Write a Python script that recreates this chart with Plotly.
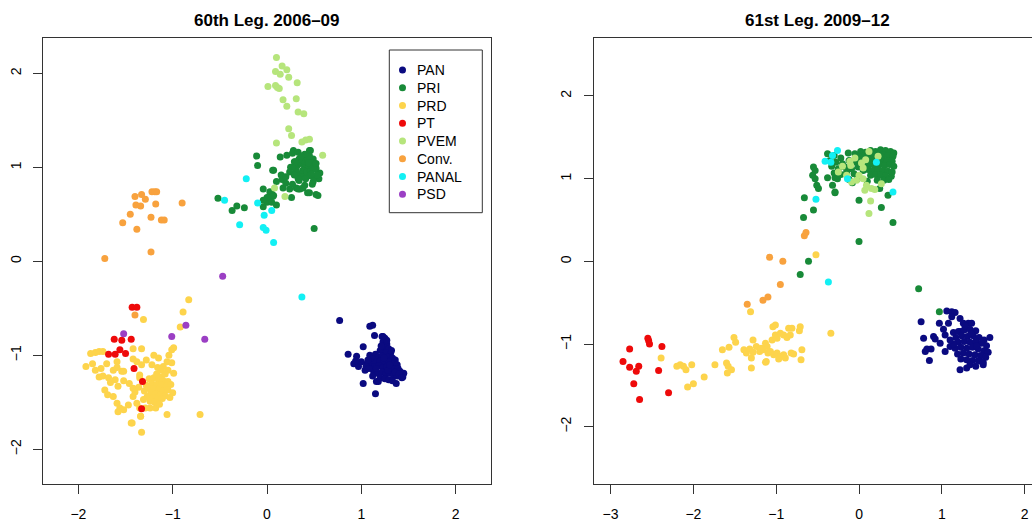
import plotly.graph_objects as go

parties = ["PAN", "PRI", "PRD", "PT", "PVEM", "Conv.", "PANAL", "PSD"]
party_colors = ["#0a0a80", "#188a38", "#fdd44c", "#ee0a0a", "#b6e57c", "#f8a23e", "#12f0f4", "#9b3fc4"]

titles = ["60th Leg. 2006\u201309", "61st Leg. 2009\u201312"]
x_ticks_60 = [-2, -1, 0, 1, 2]
y_ticks_60 = [-2, -1, 0, 1, 2]
x_ticks_61 = [-3, -2, -1, 0, 1, 2]
y_ticks_61 = [-2, -1, 0, 1, 2]

# ---------------- 60th Legislature ----------------
pan_60_x = [0.77, 1.09, 1.12, 1.02, 0.86, 0.92, 0.95, 0.97, 1.06, 1.09, 1.04, 1.02, 1.15, 1.16, 1.37, 1.44, 1.45,
            1.22, 1.25, 1.23, 1.27, 1.24, 1.29, 1.20, 1.26, 1.31, 1.15, 1.18, 1.22, 1.28, 1.33, 1.36, 1.12, 1.16,
            1.20, 1.24, 1.29, 1.34, 1.38, 1.10, 1.14, 1.19, 1.23, 1.27, 1.31, 1.35, 1.39, 1.41, 1.13, 1.17, 1.22,
            1.26, 1.30, 1.34, 1.38, 1.20, 1.25, 1.29, 1.33, 1.18, 1.07, 1.05, 1.00, 0.94, 1.32, 1.27, 1.21, 1.08,
            1.36, 1.40, 1.43, 1.28, 1.24, 1.30, 1.16, 1.12, 1.14, 1.23]
pan_60_y = [-0.63, -0.69, -0.68, -0.91, -0.99, -1.09, -1.01, -1.12, -1.09, -1.00, -1.16, -1.30, -1.41, -1.28, -1.30, -1.23, -1.19,
            -0.80, -0.82, -0.86, -0.88, -0.92, -0.93, -0.95, -0.97, -0.98, -0.99, -1.02, -1.01, -1.02, -1.03, -1.05, -1.04, -1.07,
            -1.06, -1.08, -1.07, -1.09, -1.10, -1.10, -1.12, -1.11, -1.13, -1.12, -1.14, -1.15, -1.14, -1.17, -1.17, -1.19, -1.18,
            -1.20, -1.19, -1.21, -1.22, -1.24, -1.25, -1.26, -1.27, -1.28, -1.05, -1.12, -1.07, -1.06, -0.95, -0.84, -0.90, -1.14,
            -1.18, -1.20, -1.24, -1.16, -1.03, -1.10, -1.14, -1.22, -0.79, -0.80]

pri_60_x = [-0.52, -0.37, -0.32, -0.24, -0.11, -0.10, -0.04, -0.04, 0.00, 0.03, 0.05, 0.02, 0.07, 0.10, 0.50, 0.54,
            0.26, 0.45, 0.28, 0.46, 0.49, 0.56, 0.55, 0.14, 0.21, 0.07, 0.16, 0.17, 0.24, 0.31, 0.35, 0.40, 0.49,
            0.06, 0.27, 0.33, 0.45, 0.29, 0.37, 0.42, 0.48, 0.52, 0.25, 0.41, 0.15, 0.20, 0.34, 0.10, 0.03, 0.06,
            0.00, -0.04, 0.05, 0.33, 0.38, 0.43, 0.52,
            0.32, 0.36, 0.40, 0.44, 0.38, 0.42, 0.46, 0.35, 0.31, 0.27, 0.39, 0.43, 0.47, 0.50, 0.45, 0.37, 0.41,
            0.33, 0.50, 0.53, 0.24, 0.29, 0.34, 0.45, 0.40, 0.36, 0.47, 0.44, 0.52, 0.30, 0.27, 0.20, 0.48]
pri_60_y = [0.67, 0.54, 0.59, 0.57, 1.12, 1.02, 0.77, 0.58, 0.63, 0.70, 0.72, 0.68, 0.70, 0.60, 0.35, 0.70,
            0.68, 0.73, 1.18, 1.18, 1.09, 0.94, 0.88, 1.11, 1.13, 0.97, 0.87, 0.78, 0.77, 0.78, 0.77, 0.81, 0.85,
            0.97, 1.15, 1.16, 1.18, 1.06, 1.10, 1.10, 1.05, 0.99, 1.00, 0.94, 0.92, 0.90, 0.86, 0.85, 0.74, 0.69,
            0.68, 0.65, 0.63, 0.77, 0.78, 0.73, 0.71,
            1.02, 1.04, 1.02, 1.00, 0.97, 0.95, 0.96, 0.93, 0.97, 1.00, 1.07, 1.08, 1.02, 0.98, 0.91, 0.90, 0.88,
            0.88, 0.90, 0.92, 0.95, 0.92, 1.09, 1.12, 1.14, 1.12, 0.93, 1.05, 1.04, 1.06, 0.82, 0.83, 0.82, 0.84]

prd_60_x = [-0.83, -0.89, -1.31, -0.92, -0.71, -1.06, -1.33, -1.43, -1.92,
            -1.01, -0.99, -1.04, -1.42, -1.33, -1.87, -1.82, -1.78, -1.74, -1.70, -1.59, -1.54,
            -1.85, -1.82, -1.76, -1.78, -1.74, -1.68, -1.66, -1.61, -1.58,
            -1.72, -1.69, -1.63, -1.59, -1.56, -1.58, -1.52, -1.47, -1.42, -1.38, -1.35, -1.44, -1.34,
            -1.34, -1.29, -1.24, -1.18,
            -1.42, -1.38, -1.33, -1.28, -1.35, -1.35, -1.52, -1.46, -1.42, -1.40, -1.36,
            -1.63, -1.59, -1.52, -1.22, -1.15, -1.28, -1.06, -1.01, -0.99, -1.05, -1.10, -1.12,
            -1.25, -1.20, -1.15, -1.10, -1.05, -1.22, -1.17, -1.12, -1.07, -1.02, -1.25, -1.20, -1.15, -1.10,
            -1.05, -1.23, -1.18, -1.13, -1.08, -1.27, -1.21, -1.16, -1.11, -1.24, -1.19, -1.14, -1.30, -1.31,
            -1.00, -1.03, -1.17, -1.12, -1.08, -1.20, -1.16]
prd_60_y = [-0.41, -0.54, -0.62, -0.70, -1.63, -1.63, -1.82, -1.72, -1.12,
            -0.94, -0.92, -1.00, -0.93, -0.93, -0.98, -0.97, -0.96, -0.96, -1.09, -1.07, -1.17,
            -1.09, -1.16, -1.14, -1.23, -1.22, -1.24, -1.29, -1.26, -1.33,
            -1.37, -1.42, -1.44, -1.51, -1.56, -1.60, -1.58, -1.53, -1.44, -1.51, -1.56, -1.72, -1.65,
            -1.65, -1.56, -1.56, -1.56,
            -1.04, -1.07, -1.10, -1.05, -1.21, -1.24, -1.27, -1.30, -1.35, -1.39, -1.34,
            -1.16, -1.13, -1.17, -1.10, -1.03, -1.32, -1.07, -1.08, -1.19, -1.16, -1.12, -1.23,
            -1.25, -1.24, -1.26, -1.27, -1.28, -1.30, -1.31, -1.32, -1.33, -1.31, -1.35, -1.36, -1.37, -1.38,
            -1.37, -1.40, -1.41, -1.42, -1.43, -1.44, -1.45, -1.47, -1.46, -1.49, -1.50, -1.52, -1.38, -1.47,
            -1.40, -1.45, -1.20, -1.16, -1.20, -1.00, -1.13]

pt_60_x = [-1.43, -1.38, -1.62, -1.54, -1.44, -1.56, -1.50, -1.68, -1.61, -1.41, -1.32, -1.33]
pt_60_y = [-0.49, -0.49, -0.83, -0.84, -0.83, -0.94, -0.98, -0.99, -0.99, -1.14, -1.28, -1.57]

pvem_60_x = [0.10, 0.16, 0.21, 0.09, 0.14, 0.23, 0.32, 0.01, 0.09, 0.11, 0.13, 0.17, 0.31, 0.21, 0.33, 0.39,
             0.23, 0.26, 0.10, 0.37, 0.41, 0.45, 0.59, 0.08, 0.19]
pvem_60_y = [2.17, 2.08, 2.04, 2.02, 1.99, 1.96, 1.90, 1.86, 1.87, 1.85, 1.84, 1.72, 1.73, 1.65, 1.59, 1.57,
             1.41, 1.34, 1.26, 1.27, 1.29, 1.30, 1.13, 0.78, 0.69]

conv_60_x = [-1.40, -1.33, -1.29, -1.22, -1.19, -1.17, -1.18, -1.39, -1.34, -1.45, -1.53, -1.38, -1.23, -1.12,
             -1.09, -0.90, -1.23, -1.72, -1.40]
conv_60_y = [0.69, 0.71, 0.66, 0.74, 0.74, 0.74, 0.61, 0.60, 0.59, 0.50, 0.41, 0.34, 0.47, 0.44,
             0.44, 0.62, 0.10, 0.03, -0.57]

panal_60_x = [-0.22, -0.45, -0.10, -0.03, 0.05, -0.29, -0.04, -0.01, 0.07, 0.37]
panal_60_y = [0.88, 0.65, 0.62, 0.49, 0.54, 0.39, 0.36, 0.33, 0.20, -0.38]

psd_60_x = [-0.47, -1.52, -1.01, -0.86, -0.66]
psd_60_y = [-0.16, -0.77, -0.80, -0.68, -0.83]

# ---------------- 61st Legislature ----------------
pan_61_x = [1.06, 1.12, 1.16, 0.75, 0.97, 1.08, 1.12, 1.22, 1.26, 1.32, 1.36, 1.02, 1.04, 1.14, 1.22,
            0.78, 0.90, 0.92, 0.82, 0.87, 0.80, 0.98, 1.04, 1.10, 0.85, 1.22, 1.30, 1.50, 1.48, 1.58,
            1.20, 1.27, 1.34, 1.41, 1.17, 1.24, 1.31, 1.38, 1.45, 1.51, 1.20, 1.27, 1.34, 1.41, 1.48,
            1.54, 1.16, 1.23, 1.30, 1.37, 1.44, 1.51, 1.56, 1.19, 1.26, 1.33, 1.40, 1.47, 1.53, 1.23,
            1.30, 1.37, 1.44, 1.50, 1.34, 1.41, 1.14, 1.10, 1.28, 1.35, 1.42]
pan_61_y = [-0.60, -0.61, -0.62, -0.73, -0.75, -0.75, -0.67, -0.69, -0.75, -0.75, -0.75, -0.82, -0.89, -0.86, -0.85,
            -0.93, -0.91, -0.94, -1.06, -1.06, -1.09, -0.99, -1.09, -1.03, -1.20, -1.31, -1.29, -1.25, -1.21, -0.92,
            -0.85, -0.83, -0.82, -0.84, -0.92, -0.90, -0.91, -0.90, -0.92, -0.95, -0.98, -0.97, -0.98, -0.97, -0.99,
            -1.02, -1.05, -1.04, -1.05, -1.04, -1.06, -1.08, -1.10, -1.12, -1.11, -1.12, -1.13, -1.14, -1.16, -1.18,
            -1.19, -1.20, -1.20, -1.22, -1.25, -1.27, -1.00, -0.95, -0.78, -0.87, -1.02]

pri_61_x = [0.72, 0.97, -0.71, -0.61, -0.67, -0.55, -0.66, 0.00, 0.41, 0.27, 0.00, 0.35, 0.25, -0.29,
            -0.55, -0.53, -0.56, -0.53, -0.51, -0.49, -0.38, -0.32, -0.29, -0.29, 0.39,
            -0.38, -0.30, -0.22, -0.13, -0.05, -0.35, -0.28, -0.20, -0.12, -0.04, -0.33, -0.25, -0.17, -0.09,
            -0.30, -0.22, -0.15, -0.06, -0.12, -0.02, -0.08, -0.26,
            0.02, 0.08, 0.14, 0.20, 0.26, 0.32, 0.38, 0.42, 0.05, 0.11, 0.17, 0.23, 0.29, 0.35, 0.41,
            0.04, 0.10, 0.16, 0.22, 0.28, 0.34, 0.40, 0.07, 0.13, 0.19, 0.25, 0.31, 0.37, 0.42,
            0.05, 0.11, 0.17, 0.23, 0.29, 0.35, 0.40, 0.14, 0.20, 0.26, 0.32, 0.22, 0.10, 0.30,
            -0.01, 0.01, 0.36]
pri_61_y = [-0.33, -0.61, -0.16, 0.00, 0.53, 0.62, 0.77, 0.24, 0.47, 0.65, 0.74, 0.80, 0.88, 0.83,
            1.14, 1.10, 1.04, 1.00, 0.92, 0.88, 1.01, 0.92, 0.84, 1.01, 1.03,
            1.30, 1.28, 1.25, 1.31, 1.30, 1.22, 1.20, 1.18, 1.22, 1.20, 1.15, 1.12, 1.14, 1.12,
            1.07, 1.05, 1.08, 1.06, 0.99, 1.00, 0.95, 1.00,
            1.33, 1.32, 1.34, 1.33, 1.35, 1.34, 1.33, 1.31, 1.27, 1.28, 1.29, 1.28, 1.29, 1.28, 1.27,
            1.21, 1.22, 1.23, 1.22, 1.23, 1.22, 1.21, 1.16, 1.17, 1.16, 1.17, 1.16, 1.17, 1.15,
            1.10, 1.11, 1.10, 1.11, 1.10, 1.09, 1.08, 1.04, 1.05, 1.04, 1.03, 0.98, 0.97, 0.98,
            1.14, 1.26, 0.99]

prd_61_x = [-2.39, -2.20, -2.16, -2.12, -2.09, -2.02, -2.07, -2.00, -1.87, -1.74, -1.65, -1.57,
            -1.60, -1.58, -1.54, -1.59, -1.51, -1.49, -1.31,
            -1.39, -1.36, -1.32, -1.30, -1.28, -1.30, -1.28,
            -1.20, -1.16, -1.11, -1.13, -1.10, -1.13,
            -1.05, -1.01, -0.99, -1.04, -1.01,
            -0.95, -0.91, -0.85, -0.81, -0.71, -0.72, -0.87, -0.83,
            -1.07, -1.03, -0.99, -0.95, -0.97, -0.91, -0.89, -0.82, -0.79, -0.69, -0.70,
            -0.34, -1.24, -1.18, -1.12, -0.52]
prd_61_y = [-1.17, -1.27, -1.25, -1.27, -1.31, -1.25, -1.52, -1.48, -1.40, -1.25, -1.07, -1.04,
            -1.23, -1.27, -1.31, -1.35, -0.92, -0.98, -0.61,
            -1.07, -1.11, -1.06, -1.17, -1.10, -1.29, -0.95,
            -1.09, -1.07, -1.03, -0.99, -1.11, -1.22,
            -0.95, -0.89, -0.93, -0.79, -0.77,
            -0.87, -0.89, -0.81, -0.81, -0.79, -0.84, -0.92, -0.89,
            -1.09, -1.13, -1.11, -1.15, -1.18, -1.13, -1.17, -1.11, -1.12, -1.07, -1.19,
            -0.87, -1.03, -1.05, -1.21, 0.08]

pt_61_x = [-2.85, -2.77, -2.77, -2.69, -2.66, -2.72, -2.65, -2.55, -2.54, -2.53, -2.38, -2.42, -2.30]
pt_61_y = [-1.21, -1.06, -1.28, -1.33, -1.27, -1.48, -1.67, -0.93, -0.96, -1.00, -1.03, -1.32, -1.59]

pvem_61_x = [-0.25, -0.11, -0.05, 0.03, 0.05, 0.12, 0.23, 0.27, -0.09, -0.03, 0.05, 0.09, 0.15, 0.07,
             -0.15, 0.19, 0.14, 0.12, -0.10, 0.00, 0.08, -0.20]
pvem_61_y = [1.08, 1.21, 1.25, 1.19, 1.13, 1.33, 1.27, 0.94, 0.96, 0.98, 1.00, 0.92, 0.88, 0.86,
             1.04, 0.87, 0.73, 0.58, 1.16, 1.04, 1.23, 1.15]

conv_61_x = [-0.66, -0.64, -1.08, -0.92, -0.95, -1.16, -1.10, -1.35]
conv_61_y = [0.31, 0.35, 0.05, 0.00, -0.28, -0.47, -0.43, -0.52]

panal_61_x = [-0.26, -0.32, -0.41, -0.34, -0.14, 0.21, 0.41, -0.52, -0.37]
panal_61_y = [1.34, 1.28, 1.21, 1.20, 1.00, 1.20, 0.84, 0.75, -0.25]

psd_61_x = []
psd_61_y = []

data_60 = [(pan_60_x, pan_60_y), (pri_60_x, pri_60_y), (prd_60_x, prd_60_y), (pt_60_x, pt_60_y),
           (pvem_60_x, pvem_60_y), (conv_60_x, conv_60_y), (panal_60_x, panal_60_y), (psd_60_x, psd_60_y)]
data_61 = [(pan_61_x, pan_61_y), (pri_61_x, pri_61_y), (prd_61_x, prd_61_y), (pt_61_x, pt_61_y),
           (pvem_61_x, pvem_61_y), (conv_61_x, conv_61_y), (panal_61_x, panal_61_y), (psd_61_x, psd_61_y)]

FONT = "Liberation Sans, Arial, Helvetica, sans-serif"
W, H = 1032, 522

fig = go.Figure()
for i, (name, col) in enumerate(zip(parties, party_colors)):
    x, y = data_60[i]
    fig.add_trace(go.Scatter(x=x, y=y, mode="markers", name=name, xaxis="x", yaxis="y",
                             marker=dict(color=col, size=7, line=dict(width=0)), showlegend=False))
for i, (name, col) in enumerate(zip(parties, party_colors)):
    x, y = data_61[i]
    if len(x) == 0:
        continue
    fig.add_trace(go.Scatter(x=x, y=y, mode="markers", name=name, xaxis="x2", yaxis="y2",
                             marker=dict(color=col, size=7, line=dict(width=0)), showlegend=False))

axis_common = dict(showgrid=False, zeroline=False, showline=True, mirror=True, linecolor="#333333",
                   linewidth=1, ticks="outside", ticklen=9, tickcolor="#333333", tickwidth=1,
                   tickfont=dict(family=FONT, size=14, color="black"), automargin=False)

# pixel geometry of plotting boxes
L1, R1 = 43.3, 491.0
L2, R2 = 593.7, 1032.0
T, B = 37.7, 484.0

# legend box geometry (pixels), R base-graphics style legend
LG_L, LG_R, LG_T, LG_B = 389.3, 482.3, 50.0, 212.7
LG_ROW0, LG_DY = 70.0, 17.76
LG_MX, LG_TX = 402.5, 414.5

shapes = [dict(type="rect", xref="paper", yref="paper", x0=LG_L / W, x1=LG_R / W,
               y0=1 - LG_B / H, y1=1 - LG_T / H, line=dict(color="#333333", width=1), fillcolor="white",
               layer="above")]
annotations = []
for i, (name, col) in enumerate(zip(parties, party_colors)):
    cy = LG_ROW0 + i * LG_DY
    r = 3.5
    shapes.append(dict(type="circle", xref="paper", yref="paper", x0=(LG_MX - r) / W, x1=(LG_MX + r) / W,
                       y0=1 - (cy + r) / H, y1=1 - (cy - r) / H, fillcolor=col, line=dict(width=0),
                       layer="above"))
    annotations.append(dict(text=name, x=LG_TX / W, y=1 - cy / H, xref="paper", yref="paper",
                            xanchor="left", yanchor="middle", showarrow=False,
                            font=dict(family=FONT, size=14, color="black")))

for k, (l, r) in enumerate([(L1, R1), (L2, 1041.7)]):
    annotations.append(dict(text="<b>" + titles[k] + "</b>", x=(l + r) / 2 / W, y=1 - 20.5 / H,
                            xref="paper", yref="paper", xanchor="center", yanchor="middle", showarrow=False,
                            font=dict(family=FONT, size=17, color="black")))

fig.update_layout(
    width=W, height=H, margin=dict(l=0, r=0, t=0, b=0),
    paper_bgcolor="white", plot_bgcolor="white",
    font=dict(family=FONT, color="black"),
    showlegend=False,
    xaxis=dict(domain=[L1 / W, R1 / W], range=[-2.372, 2.375], tickvals=x_ticks_60, anchor="y",
               ticklabelstandoff=8, **axis_common),
    yaxis=dict(domain=[1 - B / H, 1 - T / H], range=[-2.37, 2.38], tickvals=y_ticks_60, tickangle=-90,
               anchor="x", ticklabelstandoff=7, **axis_common),
    xaxis2=dict(domain=[L2 / W, R2 / W], range=[-3.204, 2.089], tickvals=x_ticks_61, anchor="y2",
                ticklabelstandoff=8, **axis_common),
    yaxis2=dict(domain=[1 - B / H, 1 - T / H], range=[-2.693, 2.705], tickvals=y_ticks_61, tickangle=-90,
                anchor="x2", ticklabelstandoff=7, **axis_common),
    shapes=shapes,
    annotations=annotations,
)

fig.write_html("out.html")
